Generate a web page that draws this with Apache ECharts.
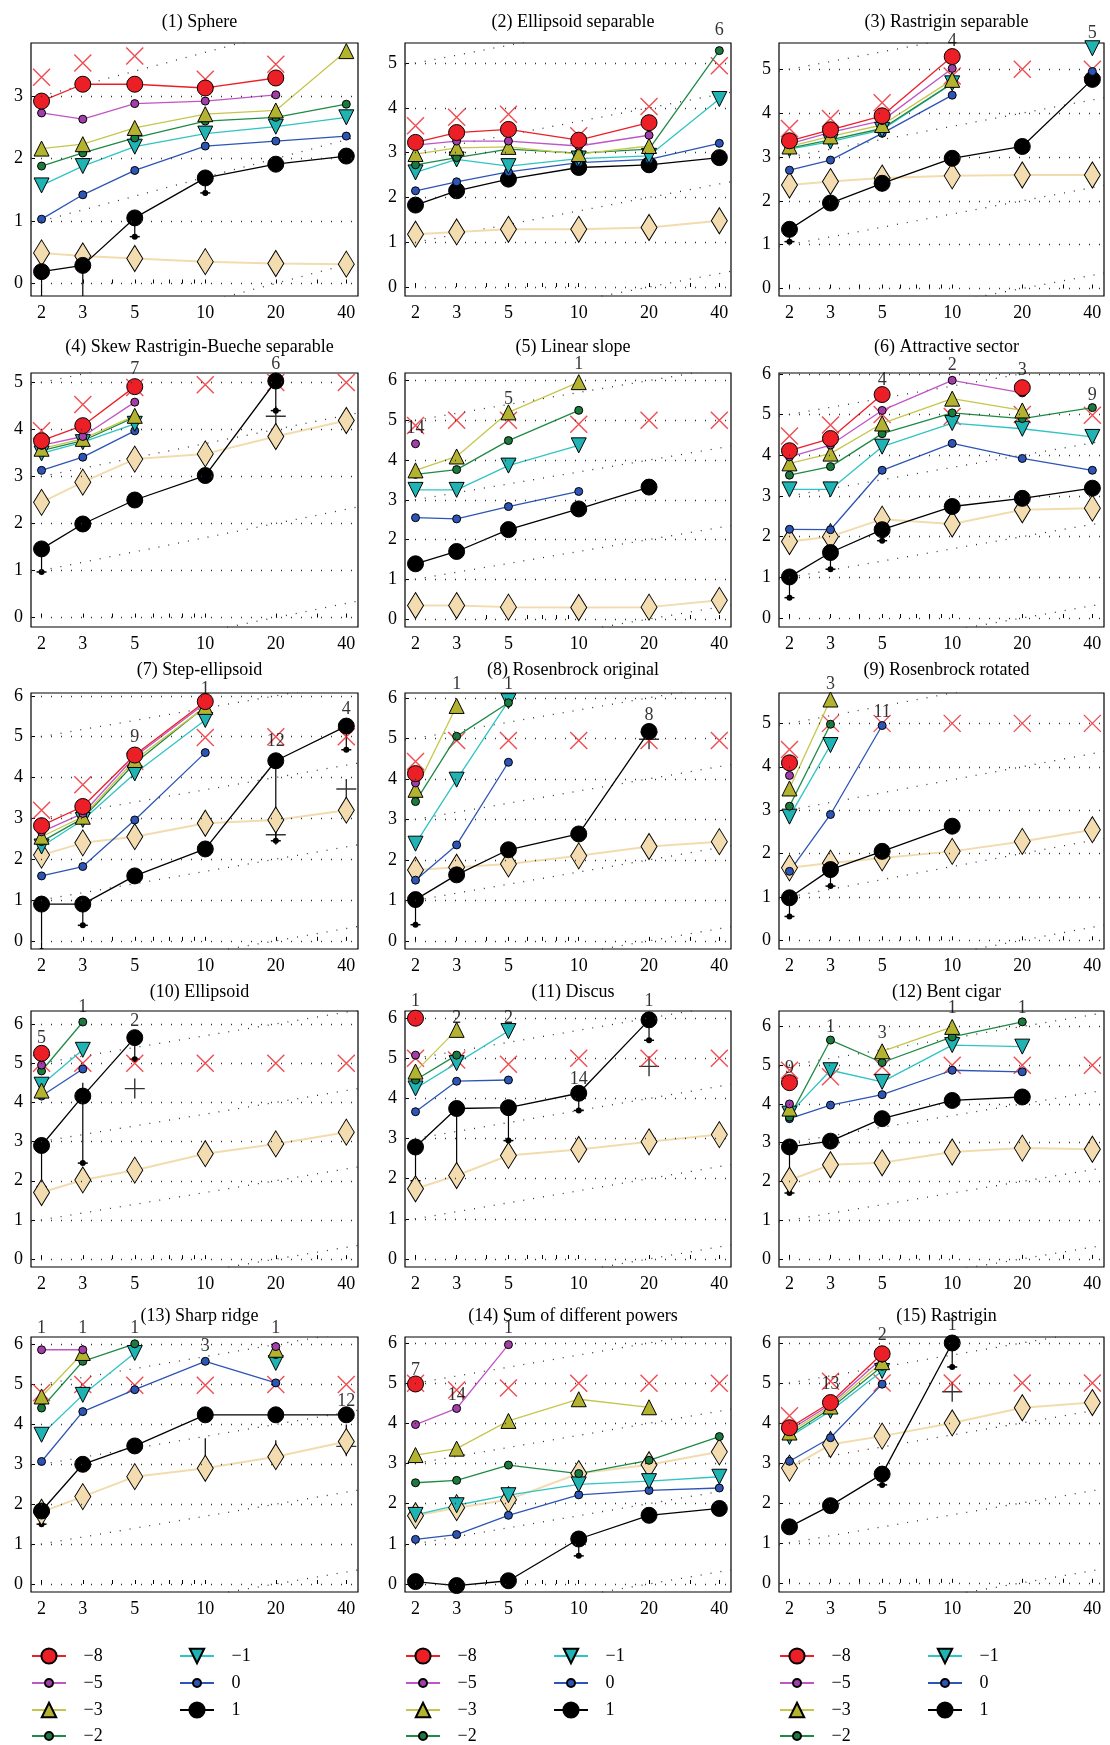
<!DOCTYPE html>
<html>
<head>
<meta charset="utf-8">
<script src="https://cdn.jsdelivr.net/npm/echarts@6/dist/echarts.min.js"></script>
<style>
html, body { margin: 0; background: #fff; }
#chart { width: 1110px; height: 1745px; }
</style>
</head>
<body>
<div id="chart"></div>
<script>
// dimensions on the x axis
var dims = [2, 3, 5, 10, 20, 40];
var titles = ['(1) Sphere', '(2) Ellipsoid separable', '(3) Rastrigin separable',
  '(4) Skew Rastrigin-Bueche separable', '(5) Linear slope', '(6) Attractive sector',
  '(7) Step-ellipsoid', '(8) Rosenbrock original', '(9) Rosenbrock rotated',
  '(10) Ellipsoid', '(11) Discus', '(12) Bent cigar',
  '(13) Sharp ridge', '(14) Sum of different powers', '(15) Rastrigin'];
var yMins = [-0.2, -0.2, -0.17, -0.2, -0.2, -0.22, -0.2, -0.2, -0.2, -0.2, -0.2, -0.21, -0.2, -0.2, -0.23];
var yMaxs = [3.85, 5.45, 5.6, 5.2, 6.19, 6.02, 6.07, 6.12, 5.7, 6.33, 6.18, 6.4, 6.19, 6.15, 6.15];

// one row per function, one value per dimension (null = target not reached)
var m8 = [
  [2.92, 3.19, 3.19, 3.13, 3.29, null],
  [3.23, 3.45, 3.52, 3.28, 3.67, null],
  [3.37, 3.62, 3.94, 5.29, null, null],
  [3.76, 4.08, 4.91, null, null, null],
  [null, null, null, null, null, null],
  [4.11, 4.41, 5.49, null, 5.66, null],
  [2.82, 3.29, 4.55, 5.86, null, null],
  [4.13, null, null, null, null, null],
  [4.09, null, null, null, null, null],
  [5.25, null, null, null, null, null],
  [6.0, null, null, null, null, null],
  [4.55, null, null, null, null, null],
  [null, null, null, null, null, null],
  [4.98, null, null, null, null, null],
  [3.88, 4.51, 5.73, null, null, null]
];
var m5 = [
  [2.73, 2.63, 2.88, 2.92, 3.02, null],
  [3.17, 3.26, 3.26, 3.15, 3.39, null],
  [3.3, 3.56, 3.83, 5.02, null, null],
  [3.66, 3.85, 4.58, null, null, null],
  [4.41, null, null, null, null, null],
  [3.96, 4.25, 5.1, 5.84, 5.53, null],
  [2.67, 3.12, 4.51, 5.82, null, null],
  [3.9, null, null, null, null, null],
  [3.8, null, null, null, null, null],
  [4.95, null, null, null, null, null],
  [5.08, null, null, null, null, null],
  [4.0, null, null, null, null, null],
  [5.87, 5.87, null, null, 5.95, null],
  [3.97, 4.37, 5.96, null, null, null],
  [3.82, 4.46, 5.62, null, null, null]
];
var m3 = [
  [2.16, 2.23, 2.49, 2.71, 2.77, 3.72],
  [2.97, 3.11, 3.13, 2.97, 3.15, null],
  [3.24, 3.47, 3.73, 4.76, null, null],
  [3.59, 3.8, 4.29, null, null, null],
  [3.74, 4.09, 5.2, 5.96, null, null],
  [3.8, 4.04, 4.78, 5.39, 5.1, null],
  [2.55, 3.04, 4.43, 5.73, null, null],
  [3.73, 5.8, null, null, null, null],
  [3.5, 5.55, null, null, null, null],
  [4.3, null, null, null, null, null],
  [4.67, 5.71, null, null, null, null],
  [3.88, null, 5.36, 5.99, null, null],
  [4.7, 5.79, null, null, 5.87, null],
  [3.21, 3.37, 4.06, 4.6, 4.4, null],
  [3.76, 4.41, 5.52, null, null, null]
];
var m2 = [
  [1.88, 2.09, 2.33, 2.6, 2.66, 2.87],
  [2.73, 2.89, 3.08, 2.99, 3.08, 5.28],
  [3.2, 3.39, 3.65, 4.68, null, null],
  [3.55, 3.76, 4.26, null, null, null],
  [3.64, 3.76, 4.49, 5.25, null, null],
  [3.51, 3.72, 4.53, 5.04, 4.9, 5.17],
  [2.43, 3.0, 4.35, 5.74, null, null],
  [3.44, 5.05, 5.88, null, null, null],
  [3.09, 4.98, null, null, null, null],
  [4.8, 6.05, null, null, null, null],
  [4.46, 5.08, null, null, null, null],
  [3.66, 5.65, 5.07, 5.73, 6.12, null],
  [4.41, 5.58, 6.02, null, 5.75, null],
  [2.52, 2.58, 2.96, 2.75, 3.08, 3.67],
  [3.7, 4.36, 5.42, null, null, null]
];
var m1 = [
  [1.57, 1.88, 2.19, 2.4, 2.51, 2.66],
  [2.56, 2.85, 2.7, 2.87, 2.93, 4.2],
  [3.18, 3.35, 3.62, 4.68, null, 5.48],
  [3.49, 3.73, 4.12, null, null, null],
  [3.25, 3.25, 3.86, 4.37, null, null],
  [3.16, 3.16, 4.21, 4.79, 4.65, 4.45],
  [2.31, 2.96, 4.1, 5.41, null, null],
  [2.4, 3.98, 5.92, null, null, null],
  [2.85, 4.5, null, null, null, null],
  [4.45, 5.34, null, null, null, null],
  [4.25, 4.88, 5.68, null, null, null],
  [3.75, 4.87, 4.57, 5.52, 5.48, null],
  [3.74, 4.74, 5.79, null, 5.54, null],
  [1.72, 1.96, 2.21, 2.48, 2.56, 2.67],
  [3.65, 4.3, 5.3, null, null, null]
];
var p0 = [
  [1.03, 1.42, 1.81, 2.2, 2.28, 2.36],
  [2.15, 2.35, 2.57, 2.78, 2.85, 3.21],
  [2.7, 2.93, 3.54, 4.41, null, 4.95],
  [3.13, 3.41, 3.97, null, null, null],
  [2.55, 2.52, 2.83, 3.21, null, null],
  [2.18, 2.17, 3.63, 4.29, 3.92, 3.63],
  [1.59, 1.82, 2.96, 4.61, null, null],
  [1.5, 2.37, 4.41, null, null, null],
  [1.59, 2.9, 4.95, null, null, null],
  [4.16, 4.85, null, null, null, null],
  [3.67, 4.43, 4.46, null, null, null],
  [3.62, 3.97, 4.24, 4.87, 4.83, null],
  [3.07, 4.32, 4.87, 5.58, 5.04, null],
  [1.11, 1.23, 1.71, 2.22, 2.33, 2.39],
  [3.04, 3.63, 4.97, null, null, null]
];
var p1 = [
  [0.19, 0.29, 1.05, 1.69, 1.91, 2.04],
  [1.83, 2.15, 2.41, 2.67, 2.73, 2.89],
  [1.35, 1.95, 2.4, 2.97, 3.24, 4.77],
  [1.46, 1.99, 2.5, 3.02, 5.03, null],
  [1.39, 1.7, 2.25, 2.77, 3.32, null],
  [1.01, 1.61, 2.17, 2.74, 2.94, 3.19],
  [0.9, 0.9, 1.59, 2.25, 4.41, 5.26],
  [1.02, 1.63, 2.25, 2.64, 5.17, null],
  [0.98, 1.63, 2.05, 2.63, null, null],
  [2.9, 4.16, 5.65, null, null, null],
  [2.79, 3.75, 3.77, 4.13, 5.96, null],
  [2.89, 3.04, 3.62, 4.09, 4.18, null],
  [1.83, 3.0, 3.46, 4.24, 4.24, 4.24],
  [0.06, -0.04, 0.08, 1.12, 1.71, 1.88],
  [1.4, 1.93, 2.72, 6.0, null, null]
];
// red crosses
var targets = [
  [3.3, 3.53, 3.64, 3.27, 3.51, null],
  [3.6, 3.79, 3.86, 3.38, 4.03, 4.94],
  [3.65, 3.88, 4.24, 4.85, 5.0, 5.0],
  [3.97, 4.53, 4.89, 4.95, 5.0, 5.0],
  [4.87, 5.0, 5.0, 4.9, 5.0, 5.0],
  [4.47, 4.74, 5.0, 4.95, 5.0, 4.98],
  [3.2, 3.82, 4.4, 4.98, 5.0, 5.0],
  [4.43, 4.95, 4.95, 4.95, 4.95, 4.95],
  [4.4, 5.0, 5.0, 5.0, 5.0, 5.0],
  [5.0, 5.0, 5.0, 5.0, 5.0, 5.0],
  [5.0, 4.96, 4.85, 5.0, 5.0, 5.0],
  [4.87, 4.7, 4.96, 5.0, 5.0, 5.0],
  [4.79, 5.0, 4.98, 4.98, 5.0, 5.0],
  [5.0, 4.83, 4.88, 5.0, 5.0, 5.0],
  [4.18, 5.04, 5.0, 5.0, 5.0, 5.0]
];
// beige diamonds
var refBest = [
  [0.49, 0.44, 0.4, 0.35, 0.32, 0.31],
  [1.18, 1.23, 1.29, 1.29, 1.33, 1.48],
  [2.36, 2.44, 2.52, 2.57, 2.59, 2.59],
  [2.45, 2.88, 3.37, 3.48, 3.85, 4.19],
  [0.34, 0.34, 0.3, 0.29, 0.3, 0.47],
  [1.88, 2.0, 2.43, 2.31, 2.66, 2.7],
  [2.1, 2.4, 2.55, 2.88, 2.96, 3.2],
  [1.75, 1.82, 1.9, 2.1, 2.33, 2.45],
  [1.67, 1.78, 1.9, 2.05, 2.28, 2.55],
  [1.7, 2.02, 2.27, 2.69, 2.94, 3.24],
  [1.75, 2.08, 2.58, 2.73, 2.92, 3.1],
  [2.03, 2.43, 2.48, 2.76, 2.86, 2.83],
  [1.8, 2.19, 2.69, 2.9, 3.19, 3.57],
  [1.7, 1.9, 2.1, 2.75, 2.97, 3.29],
  [2.87, 3.46, 3.67, 4.0, 4.38, 4.51]
];
// spread of the black (target 1) runs: [panel, dim, low, high]
var blackSpread = [
  [0, 2, -0.25, 0.19], [0, 3, -0.25, 0.29], [0, 5, 0.75, 1.05], [0, 10, 1.45, 1.75],
  [2, 2, 1.07, 1.5],
  [3, 2, 0.97, 1.6], [3, 20, 4.4, 5.03],
  [5, 2, 0.5, 1.1], [5, 3, 1.2, 1.7], [5, 5, 1.9, 2.2],
  [6, 2, -0.25, 1.1], [6, 3, 0.38, 1.0], [6, 20, 2.45, 4.5], [6, 40, 4.68, 5.3],
  [7, 2, 0.4, 1.1],
  [8, 2, 0.55, 1.1], [8, 3, 1.25, 1.7],
  [9, 2, 1.85, 2.9], [9, 3, 2.45, 4.5], [9, 5, 5.1, 5.7],
  [10, 2, 1.95, 2.9], [10, 3, 2.1, 3.75], [10, 5, 2.95, 3.77], [10, 10, 3.7, 4.1], [10, 20, 5.45, 5.96],
  [11, 2, 1.7, 2.9],
  [12, 2, 1.5, 1.85], [12, 10, 2.9, 3.65], [12, 20, 3.3, 3.6], [12, 40, 3.45, 4.0],
  [13, 10, 0.7, 1.1],
  [14, 5, 2.45, 2.7], [14, 10, 5.4, 6.0]
];
// black median crosses: [panel, dim, y]
var blackMedian = [
  [3, 20, 4.28], [6, 20, 2.6], [6, 40, 3.72], [7, 20, 4.98],
  [9, 5, 4.35], [10, 20, 4.8], [12, 40, 3.45], [14, 10, 4.78]
];
// number of successful trials written above some points: [panel, dim, y, text]
var notes = [
  [1, 40, 5.73, '6'],
  [2, 10, 5.63, '4'], [2, 40, 5.82, '5'],
  [3, 5, 5.28, '7'], [3, 20, 5.39, '6'],
  [4, 2, 4.79, '14'], [4, 5, 5.54, '5'], [4, 10, 6.42, '1'],
  [5, 5, 5.84, '4'], [5, 10, 6.2, '2'], [5, 20, 6.08, '3'], [5, 40, 5.47, '9'],
  [6, 5, 4.99, '9'], [6, 10, 6.15, '1'], [6, 20, 4.9, '12'], [6, 40, 5.66, '4'],
  [7, 3, 6.34, '1'], [7, 5, 6.34, '1'], [7, 20, 5.57, '8'],
  [8, 3, 5.9, '3'], [8, 5, 5.25, '11'],
  [9, 2, 5.63, '5'], [9, 3, 6.43, '1'], [9, 5, 6.07, '2'],
  [10, 2, 6.42, '1'], [10, 3, 6.0, '2'], [10, 5, 6.0, '2'], [10, 10, 4.48, '14'], [10, 20, 6.42, '1'],
  [11, 2, 4.91, '9'], [11, 3, 5.99, '1'], [11, 5, 5.82, '3'], [11, 10, 6.47, '1'], [11, 20, 6.47, '1'],
  [12, 2, 6.42, '1'], [12, 3, 6.42, '1'], [12, 5, 6.42, '1'], [12, 10, 5.96, '3'], [12, 20, 6.42, '1'], [12, 40, 4.58, '12'],
  [13, 2, 5.33, '7'], [13, 3, 4.71, '14'], [13, 5, 6.37, '1'],
  [14, 3, 4.97, '13'], [14, 5, 6.19, '2'], [14, 10, 6.45, '1']
];
// offsets of the slanted dotted guide lines (quadratic scaling)
var slantOffsets = [-1.3, 0.7, 2.7, 4.7];

var FONT = 'Liberation Serif';
var colL = [31, 405, 779], colR = [358, 731, 1104];
var rowT = [43, 373, 693, 1011, 1337], rowB = [296, 627, 949, 1267, 1592];
var titleY = [19, 344, 667, 989, 1313];
var xMin = 0.256, xMax = 1.652;
var log10 = function (v) { return Math.log(v) / Math.LN10; };
var xTicks = [2, 3, 4, 5, 6, 7, 8, 9, 10, 20, 30, 40].map(log10);
var xLabels = dims.map(log10);
var RED = '#ec1f27';

var styles = [
  { name: '1', rows: p1, fill: '#000000', line: '#000000', symbol: 'circle', size: 16 },
  { name: '0', rows: p0, fill: '#2d55b5', line: '#2d55b5', symbol: 'circle', size: 8 },
  { name: '\u22121', rows: m1, fill: '#1fb3b3', line: '#2fc4c4', symbol: 'triangle', size: 15, rotate: 180 },
  { name: '\u22122', rows: m2, fill: '#1c7a3e', line: '#1f8a45', symbol: 'circle', size: 8 },
  { name: '\u22123', rows: m3, fill: '#b3b330', line: '#c6c64c', symbol: 'triangle', size: 15 },
  { name: '\u22125', rows: m5, fill: '#a23ea8', line: '#c055c6', symbol: 'circle', size: 8 },
  { name: '\u22128', rows: m8, fill: RED, line: RED, symbol: 'circle', size: 16 }
];

function toPoints(row) {
  return dims.map(function (d, k) {
    return row[k] == null ? null : [log10(d), row[k]];
  });
}

function renderSpread(params, api) {
  var top = api.coord([api.value(0), api.value(2)]);
  var bot = api.coord([api.value(0), api.value(1)]);
  return {
    type: 'group',
    children: [
      { type: 'line', shape: { x1: top[0], y1: top[1], x2: bot[0], y2: bot[1] },
        style: { stroke: '#000', lineWidth: 1.2 } },
      { type: 'circle', shape: { cx: bot[0], cy: bot[1], r: 3 }, style: { fill: '#000' } },
      { type: 'line', shape: { x1: bot[0] - 5, y1: bot[1], x2: bot[0] + 5, y2: bot[1] },
        style: { stroke: '#000', lineWidth: 1.5 } }
    ]
  };
}

var grids = [], xAxes = [], yAxes = [], series = [], titleList = [];
for (var i = 0; i < 15; i++) {
  var c = i % 3, r = Math.floor(i / 3);
  grids.push({
    left: colL[c], top: rowT[r], width: colR[c] - colL[c], height: rowB[r] - rowT[r],
    show: true, borderColor: '#000', borderWidth: 1.2, backgroundColor: 'transparent',
    containLabel: false, outerBoundsMode: 'none'
  });
  var ints = [];
  for (var v = Math.ceil(yMins[i]); v <= Math.floor(yMaxs[i]); v++) ints.push(v);
  xAxes.push({
    type: 'value', gridIndex: i, min: xMin, max: xMax,
    axisLine: { show: false }, splitLine: { show: false },
    axisTick: { show: true, inside: true, length: 4, customValues: xTicks, lineStyle: { color: '#000' } },
    axisLabel: {
      customValues: xLabels, fontFamily: FONT, fontSize: 18, color: '#000', margin: 8,
      formatter: function (val) { return String(Math.round(Math.pow(10, val))); }
    }
  });
  yAxes.push({
    type: 'value', gridIndex: i, min: yMins[i], max: yMaxs[i],
    axisLine: { show: false }, splitLine: { show: false },
    axisTick: { show: true, inside: true, length: 4, customValues: ints, lineStyle: { color: '#000' } },
    axisLabel: { customValues: ints, fontFamily: FONT, fontSize: 18, color: '#000', margin: 8 }
  });
  titleList.push({
    text: titles[i], left: (colL[c] + colR[c]) / 2, top: titleY[r] - 11, textAlign: 'center',
    textStyle: { fontFamily: FONT, fontSize: 18, fontWeight: 'normal', color: '#000' }
  });

  // slanted dotted guide lines, the first one also carries the horizontal dotted grid
  slantOffsets.forEach(function (off, k) {
    var s = {
      type: 'line', xAxisIndex: i, yAxisIndex: i, silent: true, symbol: 'none',
      data: [[xMin, xMin + off], [xMax, xMax + off]],
      lineStyle: { color: '#333', width: 1.3, type: [1, 9] }
    };
    if (k === 0) {
      s.markLine = {
        silent: true, symbol: ['none', 'none'], label: { show: false },
        lineStyle: { color: '#333', width: 1.3, type: [1, 9] },
        data: ints.map(function (y) { return { yAxis: y }; })
      };
    }
    series.push(s);
  });

  series.push({
    type: 'line', xAxisIndex: i, yAxisIndex: i, name: 'best',
    data: toPoints(refBest[i]), symbol: 'diamond', symbolSize: [16, 26],
    itemStyle: { color: '#f3ddb0', borderColor: '#000', borderWidth: 1 },
    lineStyle: { color: '#f2dcae', width: 2 }
  });

  series.push({
    type: 'custom', xAxisIndex: i, yAxisIndex: i, silent: true, clip: true,
    renderItem: renderSpread,
    data: blackSpread.filter(function (b) { return b[0] === i; }).map(function (b) {
      return [log10(b[1]), b[2], b[3]];
    })
  });

  styles.forEach(function (st) {
    series.push({
      type: 'line', name: st.name, xAxisIndex: i, yAxisIndex: i,
      data: toPoints(st.rows[i]), connectNulls: false,
      symbol: st.symbol, symbolSize: st.size, symbolRotate: st.rotate || 0,
      itemStyle: { color: st.fill, borderColor: '#000', borderWidth: 1 },
      lineStyle: { color: st.line, width: 1.3 }
    });
  });

  series.push({
    type: 'scatter', xAxisIndex: i, yAxisIndex: i, silent: true,
    data: blackMedian.filter(function (b) { return b[0] === i; }).map(function (b) {
      return [log10(b[1]), b[2]];
    }),
    symbol: 'path://M0,10L20,10M10,0L10,20', symbolSize: 20,
    itemStyle: { color: 'none', borderColor: '#000', borderWidth: 1.4 }
  });

  series.push({
    type: 'scatter', xAxisIndex: i, yAxisIndex: i, name: 'target',
    data: toPoints(targets[i]).filter(function (p) { return p; }),
    symbol: 'path://M0,0L10,10M10,0L0,10', symbolSize: 17,
    itemStyle: { color: 'none', borderColor: RED, borderWidth: 1.4 }
  });

  series.push({
    type: 'scatter', xAxisIndex: i, yAxisIndex: i, clip: false, silent: true,
    data: notes.filter(function (n) { return n[0] === i; }).map(function (n) {
      return [log10(n[1]), n[2], n[3]];
    }),
    symbolSize: 1, itemStyle: { color: 'rgba(0,0,0,0)' },
    label: {
      show: true, position: 'inside', fontFamily: FONT, fontSize: 18, color: '#000',
      formatter: function (p) { return p.value[2]; }
    }
  });
}

// legend entries: [name, column offset, row, icon height]
var legendItems = [
  ['\u22128', 0, 0, 19], ['\u22125', 0, 1, 10], ['\u22123', 0, 2, 18], ['\u22122', 0, 3, 10],
  ['\u22121', 148, 0, 18], ['0', 148, 1, 10], ['1', 148, 2, 19]
];
var legendRowY = [1656, 1683, 1710, 1736];
var legends = [];
for (var c2 = 0; c2 < 3; c2++) {
  legendItems.forEach(function (it) {
    legends.push({
      data: [it[0]], left: colL[c2] + it[1], top: legendRowY[it[2]] - 9, padding: 0,
      itemWidth: 34, itemHeight: it[3], selectedMode: false,
      formatter: function (name) { return '\u2002\u2009' + name; },
      textStyle: { fontFamily: FONT, fontSize: 18, lineHeight: 18, color: '#000' }
    });
  });
}

var chart = echarts.init(document.getElementById('chart'));
chart.setOption({
  animation: false,
  backgroundColor: '#fff',
  title: titleList,
  grid: grids,
  xAxis: xAxes,
  yAxis: yAxes,
  legend: legends,
  series: series
});
</script>
</body>
</html>
